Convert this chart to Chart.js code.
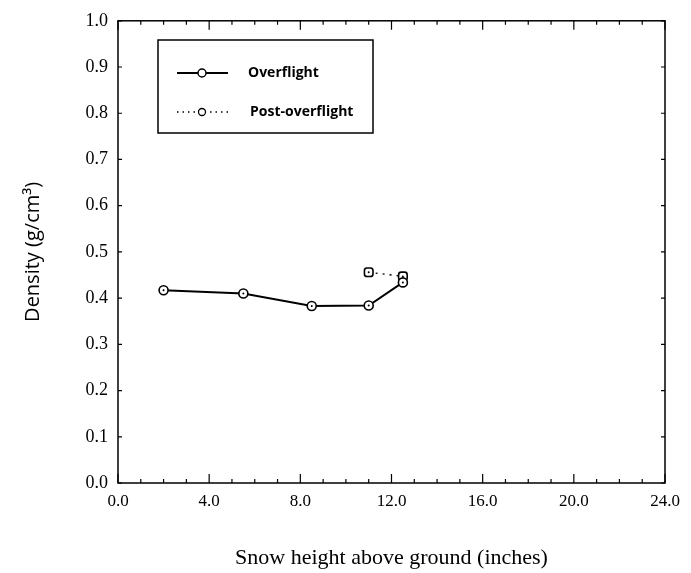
<!DOCTYPE html>
<html>
<head>
<meta charset="utf-8">
<script src="https://cdn.jsdelivr.net/npm/chart.js@4/dist/chart.umd.min.js"></script>
<style>
  html, body { margin: 0; padding: 0; background: #fff; }
  #wrap { width: 691px; height: 573px; }
</style>
</head>
<body>
<div id="wrap"><canvas id="graf"></canvas></div>
<script>
// values
const overflightX = [2.0, 5.5, 8.5, 11.0, 12.5];
const overflightY = [0.417, 0.41, 0.383, 0.384, 0.434];
const postX = [11.0, 12.5];
const postY = [0.456, 0.447];
const xTickValues = [0, 4, 8, 12, 16, 20, 24];
const yTickValues = [0, 0.1, 0.2, 0.3, 0.4, 0.5, 0.6, 0.7, 0.8, 0.9, 1.0];

const overflightPts = overflightX.map((x, i) => ({ x: x, y: overflightY[i] }));
const postPts = postX.map((x, i) => ({ x: x, y: postY[i] }));

// frame + inward ticks + dots inside the markers
const marcPlugin = {
    id: 'marc',
    afterDraw: function(chart) {
        const ctx = chart.ctx;
        const a = chart.chartArea;
        const xs = chart.scales.x;
        const ys = chart.scales.y;
        ctx.save();
        ctx.strokeStyle = '#000';
        ctx.lineWidth = 1.5;
        ctx.strokeRect(a.left, a.top, a.right - a.left, a.bottom - a.top);
        ctx.lineWidth = 1.2;
        for (let v = 0; v <= 24; v++) {
            const px = xs.getPixelForValue(v);
            const len = v % 4 == 0 ? 9 : 4;
            ctx.beginPath();
            ctx.moveTo(px, a.bottom);
            ctx.lineTo(px, a.bottom - len);
            ctx.moveTo(px, a.top);
            ctx.lineTo(px, a.top + len);
            ctx.stroke();
        }
        yTickValues.forEach(v => {
            const py = ys.getPixelForValue(v);
            ctx.beginPath();
            ctx.moveTo(a.left, py);
            ctx.lineTo(a.left + 4, py);
            ctx.moveTo(a.right, py);
            ctx.lineTo(a.right - 4, py);
            ctx.stroke();
        });
        ctx.fillStyle = '#000';
        [0, 1].forEach(d => {
            chart.getDatasetMeta(d).data.forEach(p => {
                ctx.beginPath();
                ctx.arc(p.x, p.y, 1, 0, Math.PI * 2);
                ctx.fill();
            });
        });
        ctx.restore();
    }
};

// legend box drawn inside the plot
const llegendaPlugin = {
    id: 'llegenda',
    afterDraw: function(chart) {
        const ctx = chart.ctx;
        ctx.save();
        ctx.strokeStyle = '#000';
        ctx.lineWidth = 1.5;
        ctx.strokeRect(158, 40, 215, 93);
        // row 1
        ctx.lineWidth = 2;
        ctx.beginPath();
        ctx.moveTo(177, 73);
        ctx.lineTo(228, 73);
        ctx.stroke();
        ctx.fillStyle = '#fff';
        ctx.lineWidth = 1.5;
        ctx.beginPath();
        ctx.arc(202, 73, 4, 0, Math.PI * 2);
        ctx.fill();
        ctx.stroke();
        // row 2
        ctx.lineWidth = 1.3;
        ctx.setLineDash([1.5, 4]);
        ctx.beginPath();
        ctx.moveTo(177, 112);
        ctx.lineTo(228, 112);
        ctx.stroke();
        ctx.setLineDash([]);
        ctx.beginPath();
        ctx.arc(202, 112, 3.5, 0, Math.PI * 2);
        ctx.fill();
        ctx.stroke();
        ctx.fillStyle = '#000';
        ctx.font = 'bold 14px "Open Sans"';
        ctx.textBaseline = 'middle';
        ctx.fillText('Overflight', 248, 73);
        ctx.fillText('Post-overflight', 250, 112);
        ctx.restore();
    }
};

const ctx = document.getElementById('graf').getContext('2d');

const myChart = new Chart(ctx, {
    type: 'scatter',
    data: {
        datasets: [{
                label: 'Overflight',
                data: overflightPts,
                showLine: true,
                borderColor: '#000',
                borderWidth: 2,
                pointStyle: 'circle',
                pointRadius: 4.5,
                pointBorderWidth: 1.6,
                pointBackgroundColor: '#fff',
                pointBorderColor: '#000'
            },
            {
                label: 'Post-overflight',
                data: postPts,
                showLine: true,
                borderColor: '#000',
                borderWidth: 1.4,
                borderDash: [2, 5],
                pointStyle: 'rectRounded',
                pointRadius: 5,
                pointBorderWidth: 1.6,
                pointBackgroundColor: '#fff',
                pointBorderColor: '#000'
            }
        ]
    },
    options: {
        responsive: true,
        maintainAspectRatio: false,
        animation: false,
        layout: { padding: { top: 20, right: 26, left: 1, bottom: 0 } },
        plugins: {
            legend: { display: false },
            tooltip: { enabled: false }
        },
        scales: {
            x: {
                type: 'linear',
                min: 0,
                max: 24,
                afterFit: function(scale) { scale.height = 90; },
                afterBuildTicks: function(scale) {
                    scale.ticks = xTickValues.map(v => ({ value: v }));
                },
                grid: { display: false, drawTicks: false },
                border: { display: false },
                ticks: {
                    color: '#000',
                    padding: 8,
                    maxRotation: 0,
                    font: { family: '"Liberation Serif"', size: 17 },
                    callback: function(v) { return Number(v).toFixed(1); }
                },
                title: {
                    display: true,
                    text: 'Snow height above ground (inches)',
                    color: '#000',
                    font: { family: '"Liberation Serif"', size: 22 },
                    padding: { top: 0, bottom: 2 }
                }
            },
            y: {
                type: 'linear',
                min: 0,
                max: 1.0,
                afterFit: function(scale) { scale.width = 117; },
                afterBuildTicks: function(scale) {
                    scale.ticks = yTickValues.map(v => ({ value: v }));
                },
                grid: { display: false, drawTicks: false },
                border: { display: false },
                ticks: {
                    color: '#000',
                    padding: 10,
                    font: { family: '"Liberation Serif"', size: 18 },
                    callback: function(v) { return Number(v).toFixed(1); }
                },
                title: {
                    display: true,
                    text: 'Density (g/cm³)',
                    color: '#000',
                    font: { family: '"Open Sans"', size: 20 },
                    padding: { top: 20, bottom: 0 }
                }
            }
        }
    },
    plugins: [marcPlugin, llegendaPlugin]
});
</script>
</body>
</html>
